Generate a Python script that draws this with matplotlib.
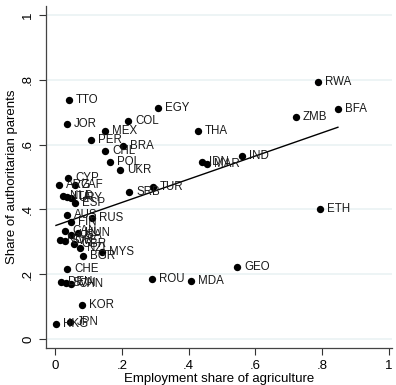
import matplotlib
matplotlib.use("Agg")
import matplotlib.pyplot as plt
import numpy as np

plt.rcParams['font.family'] = ['Liberation Sans', 'DejaVu Sans']

# country codes, employment share of agriculture, share of authoritarian parents
countries = ["RWA", "BFA", "ZMB", "EGY", "THA", "IND", "IDN", "MAR", "TUR", "ETH",
             "GEO", "ROU", "MDA", "TTO", "JOR", "COL", "MEX", "PER", "BRA", "CHL",
             "POL", "UKR", "CYP", "SRB", "ARG", "ZAF", "NLD", "ITA", "URY", "ESP",
             "AUS", "RUS", "FIN", "CAN", "USA", "HUN", "NOR", "SWE", "GBR", "NZL",
             "MYS", "BGR", "CHE", "DEU", "SVN", "CHN", "KOR", "JPN", "HKG"]
agri = [0.787, 0.847, 0.722, 0.308, 0.428, 0.560, 0.440, 0.455, 0.293, 0.793,
        0.545, 0.290, 0.407, 0.042, 0.036, 0.219, 0.150, 0.108, 0.204, 0.150,
        0.165, 0.195, 0.039, 0.222, 0.012, 0.060, 0.024, 0.036, 0.048, 0.060,
        0.036, 0.111, 0.048, 0.030, 0.048, 0.069, 0.015, 0.030, 0.057, 0.075,
        0.141, 0.084, 0.036, 0.018, 0.033, 0.048, 0.081, 0.045, 0.003]
auth = [0.793, 0.710, 0.685, 0.713, 0.642, 0.565, 0.546, 0.540, 0.469, 0.401,
        0.222, 0.185, 0.179, 0.738, 0.664, 0.673, 0.642, 0.614, 0.596, 0.580,
        0.546, 0.522, 0.497, 0.454, 0.475, 0.475, 0.441, 0.438, 0.435, 0.420,
        0.383, 0.373, 0.361, 0.333, 0.321, 0.327, 0.306, 0.302, 0.293, 0.281,
        0.269, 0.256, 0.216, 0.176, 0.173, 0.170, 0.105, 0.052, 0.046]

ticks = [0, 0.2, 0.4, 0.6, 0.8, 1]
tick_labels = ["0", ".2", ".4", ".6", ".8", "1"]

fig = plt.figure(figsize=(3.96, 3.85), dpi=100)
ax = fig.add_axes([0.116, 0.096, 0.874, 0.888])

ax.scatter(agri, auth, s=28, color="black", zorder=3, linewidths=0)
for c, x, y in zip(countries, agri, auth):
    ax.annotate(c, (x, y), xytext=(5, 0), textcoords="offset points",
                va="center", ha="left", fontsize=8.3, color="#1a1a1a", zorder=4)

# linear fit
b, a = np.polyfit(agri, auth, 1)
xs = np.array([min(agri), max(agri)])
ax.plot(xs, a + b * xs, color="black", lw=1.0, zorder=2)

ax.set_xlim(-0.027, 1.009)
ax.set_ylim(-0.028, 1.028)
ax.set_xticks(ticks)
ax.set_xticklabels(tick_labels)
ax.set_yticks(ticks)
ax.set_yticklabels(tick_labels, rotation=90, va="center")
ax.tick_params(direction="out", length=5, width=0.8, labelsize=9.5, colors="#333333",
               labelcolor="black")
ax.yaxis.grid(True, color="#eaf2f3", lw=1.2)
ax.set_axisbelow(True)
for s in ["top", "right"]:
    ax.spines[s].set_visible(False)
for s in ["left", "bottom"]:
    ax.spines[s].set_color("#444444")
    ax.spines[s].set_linewidth(0.9)

ax.set_xlabel("Employment share of agriculture", fontsize=9.5, labelpad=1)
ax.set_ylabel("Share of authoritarian parents", fontsize=9.5, labelpad=3)

fig.savefig("out.png", dpi=100)
